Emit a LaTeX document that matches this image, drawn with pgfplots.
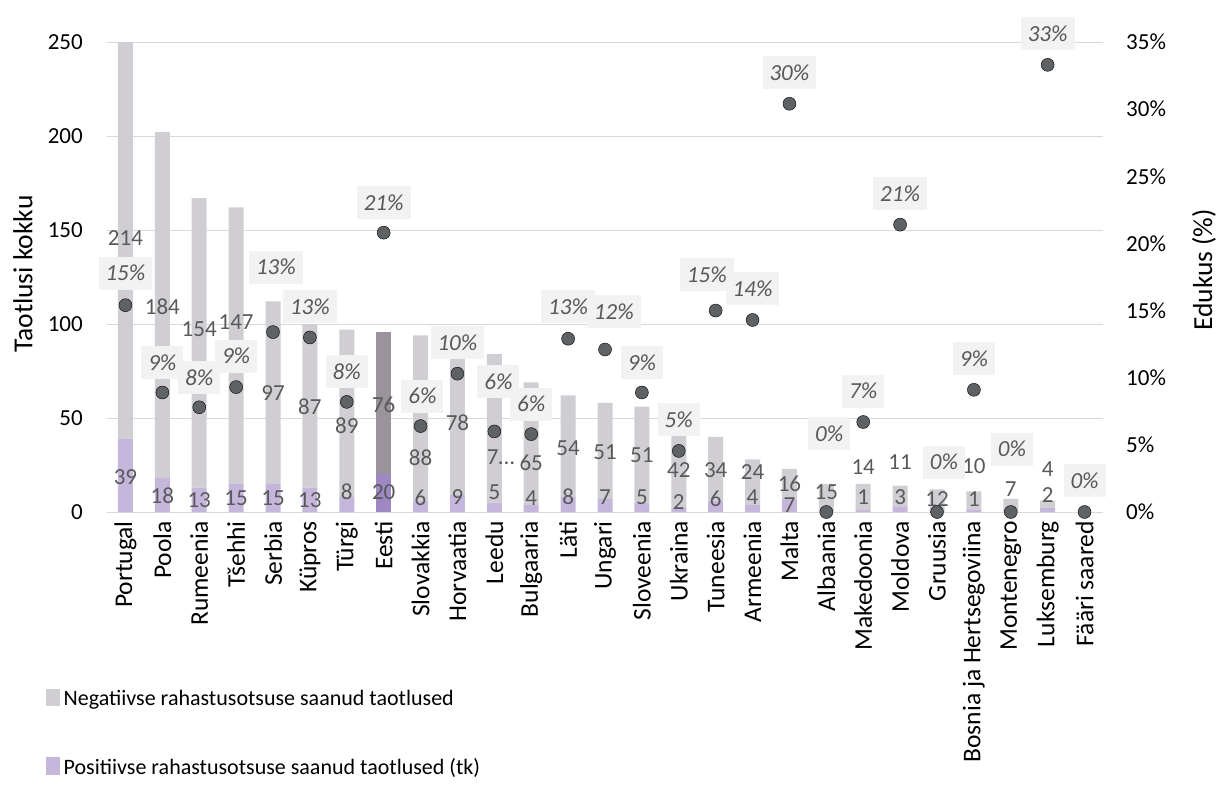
\documentclass[border=0pt]{standalone}
\usepackage{pgfplots}
\pgfplotsset{compat=1.18}
\usepackage{pgfplotstable}
\usepackage{fontspec}
\setmainfont{Carlito}
\newcommand\chartfont{\fontsize{23}{27.6}\selectfont}
\newcommand\catfont{\fontsize{25.5}{30}\selectfont}
\newcommand\legfont{\fontsize{22}{26.4}\selectfont}
\newcommand\titlefont{\fontsize{27.5}{33}\selectfont}

\definecolor{negc}{HTML}{D0CED3}
\definecolor{posc}{HTML}{C5B7DC}
\definecolor{negE}{HTML}{9B939C}
\definecolor{posE}{HTML}{9D88C4}
\definecolor{dotc}{HTML}{5F6264}
\definecolor{labc}{HTML}{595959}
\definecolor{boxc}{HTML}{F2F2F2}
\definecolor{gridc}{HTML}{D9D9D9}

% applications per country: positive and negative funding decisions
\pgfplotstableread{
idx pos neg
0 39 214
1 18 184
2 13 154
3 15 147
4 15 97
5 13 87
6 8 89
7 20 76
8 6 88
9 9 78
10 5 79
11 4 65
12 8 54
13 7 51
14 5 51
15 2 42
16 6 34
17 4 24
18 7 16
19 0 15
20 1 14
21 3 11
22 0 12
23 1 10
24 0 7
25 2 4
26 0 0
}\apps

% value labels of the bar segments (position on the left scale)
\pgfplotstableread{
x y t
0 145.7 214
0 18.6 39
1 109.0 184
1 8.5 18
2 97.3 154
2 6.4 13
3 101.1 147
3 7.4 15
4 63.3 97
4 7.4 15
5 55.9 87
5 6.4 13
6 45.7 89
6 10.6 8
7 56.9 76
7 10.6 20
8 28.7 88
8 7.4 6
9 47.3 78
9 8.0 9
10.17 29.3 7…
10 10.6 5
11 26.1 65
11 7.4 4
12 34.0 54
12 8.0 8
13 31.9 51
13 8.0 7
14 30.3 51
14 8.0 5
15 22.3 42
15 5.3 2
16 22.3 34
16 6.9 6
17 21.3 24
17 8.0 4
18 14.8 16
18 3.7 7
19 10.6 15
20 23.9 14
20 8.0 1
21 26.6 11
21 8.0 3
22 6.9 12
23 24.5 10
23 6.9 1
24 12.2 7
25 22.9 4
25 9.0 2
}\barlabels

% success rate (%) and where its label box sits
\pgfplotstableread{
idx pct lx ly
0 15.4 0 17.78
1 8.9 1 11.13
2 7.8 2 10.03
3 9.3 3 11.61
4 13.4 4.08 18.24
5 13.0 5 15.31
6 8.2 6 10.43
7 20.8 7 23.03
8 6.4 8.05 8.63
9 10.3 9 12.61
10 6.0 10.11 9.72
11 5.8 11 8.03
12 12.9 12 15.28
13 12.1 13.24 14.93
14 8.9 14 11.13
15 4.55 15 6.86
16 15.0 15.76 17.68
17 14.3 17 16.61
18 30.4 18 32.71
19 0 19.08 5.81
20 6.7 20 9.01
21 21.4 21 23.71
22 0 22.19 3.72
23 9.1 23 11.41
24 0 24.03 4.69
25 33.3 25 35.61
26 0 26 2.31
}\success

\pgfplotsset{
  /pgf/number format/assume math mode=true,
  frame/.style={
    scale only axis, width=996pt, height=470pt,
    at={(107pt,295pt)}, anchor=south west,
    xmin=-0.5, xmax=26.5,
  },
}

\begin{document}
\begin{tikzpicture}
\path[use as bounding box] (0,0) rectangle (1221pt,807pt);

% stacked bars, left scale
\begin{axis}[frame,
  ymin=0, ymax=250, ytick={0,50,...,250},
  ybar stacked, bar width=15pt,
  axis line style={draw=none}, major tick length=0pt,
  xtick pos=bottom, ytick pos=left,
  ymajorgrids, major grid style={draw=gridc, line width=1pt},
  xtick={0,...,26},
  xticklabels={Portugal,Poola,Rumeenia,Tšehhi,Serbia,Küpros,Türgi,Eesti,Slovakkia,Horvaatia,Leedu,Bulgaaria,Läti,Ungari,Sloveenia,Ukraina,Tuneesia,Armeenia,Malta,Albaania,Makedoonia,Moldova,Gruusia,Bosnia ja Hertsegoviina,Montenegro,Luksemburg,Fääri saared},
  xticklabel style={rotate=90, anchor=east, inner sep=0pt, font=\catfont},
  xticklabel shift=9pt,
  yticklabel style={anchor=east, inner sep=0pt, font=\chartfont},
  yticklabel shift=24pt,
  ylabel={Taotlusi kokku},
  ylabel style={at={(axis description cs:-0.0843,0.506)}, anchor=center, font=\titlefont, inner sep=0pt},
  legend cell align=left,
  legend style={at={(axis description cs:-0.0612,-0.376)}, anchor=north west,
    draw=none, fill=none, inner sep=0pt, font=\legfont,
    row sep=50pt, column sep=4.5pt, nodes={inner sep=0pt}},
]
\addplot[fill=posc, draw=none, forget plot] table[x=idx, y expr={ifthenelse(\thisrow{idx}==7,0,\thisrow{pos})}] {\apps};
\addplot[fill=posE, draw=none, forget plot] table[x=idx, y expr={ifthenelse(\thisrow{idx}==7,\thisrow{pos},0)}] {\apps};
\addplot[fill=negc, draw=none, forget plot] table[x=idx, y expr={ifthenelse(\thisrow{idx}==7,0,\thisrow{neg})}] {\apps};
\addplot[fill=negE, draw=none, forget plot] table[x=idx, y expr={ifthenelse(\thisrow{idx}==7,\thisrow{neg},0)}] {\apps};
\addlegendimage{legend image code/.code={\fill[negc] (0pt,-7pt) rectangle (12.5pt,9.5pt);}}
\addlegendentry{Negatiivse rahastusotsuse saanud taotlused}
\addlegendimage{legend image code/.code={\fill[posc] (0pt,-7pt) rectangle (12.5pt,9.5pt);}}
\addlegendentry{Positiivse rahastusotsuse saanud taotlused (tk)}
\end{axis}

% segment values
\begin{axis}[frame, ymin=0, ymax=250, hide axis, clip=false]
\addplot[only marks, mark=none, nodes near coords, point meta=explicit symbolic,
  nodes near coords style={anchor=center, font=\chartfont, text=labc, inner sep=0pt}]
  table[x=x, y=y, meta=t] {\barlabels};
\end{axis}

% success rate, right scale
\begin{axis}[frame, ymin=0, ymax=35, ytick={0,5,...,35},
  hide x axis, axis y line*=right, axis line style={draw=none}, major tick length=0pt,
  yticklabel={\pgfmathprintnumber{\tick}\%},
  yticklabel style={anchor=west, inner sep=0pt, font=\chartfont},
  yticklabel shift=23pt,
  ylabel={Edukus (\%)},
  ylabel style={at={(axis description cs:1.1014,0.515)}, anchor=center, font=\titlefont, inner sep=0pt},
  clip=false]
\addplot[only marks, mark=*, mark size=6.5pt, mark options={fill=dotc, draw=none}]
  table[x=idx, y=pct] {\success};
\addplot[only marks, mark=none, point meta=\thisrow{pct},
  nodes near coords={\pgfmathprintnumber[fixed,precision=0]{\pgfplotspointmeta}\%},
  nodes near coords style={anchor=center, font=\chartfont\itshape, text=labc, fill=boxc,
    inner xsep=7pt, inner ysep=0pt, minimum height=33pt}]
  table[x=lx, y=ly] {\success};
\end{axis}
\end{tikzpicture}
\end{document}
